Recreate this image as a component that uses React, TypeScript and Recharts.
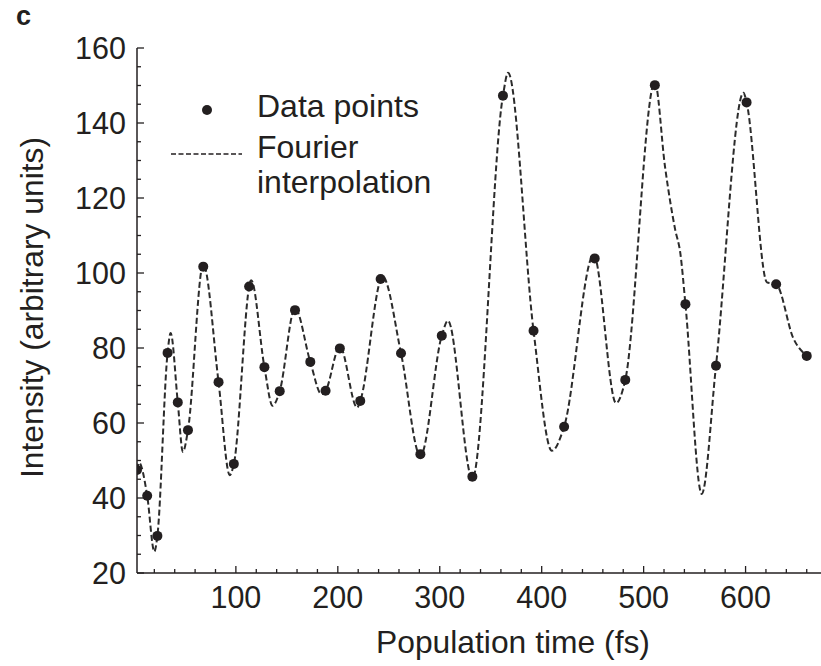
import { ComposedChart, Legend, Line, Scatter, XAxis, YAxis, Label } from 'recharts'

// measured data points (time in fs, intensity in arb. units)
const pointTimes = [3, 13, 23, 33, 43, 53, 68, 83, 98, 113, 128, 143, 158, 173, 188, 202, 222, 242, 262, 281, 302, 332, 362, 392, 422, 452, 482, 511, 541, 571, 601, 630, 660]
const pointIntensities = [47.5, 40.6, 29.9, 78.7, 65.5, 58.1, 101.7, 70.9, 49.1, 96.4, 74.9, 68.5, 90.1, 76.3, 68.6, 79.9, 65.9, 98.4, 78.6, 51.7, 83.3, 45.7, 147.3, 84.6, 59.0, 103.9, 71.5, 150.1, 91.7, 75.3, 145.5, 97.0, 77.9]

// dashed Fourier curve (points, peaks and troughs)
const curveTimes = [3, 5, 13, 20, 23, 33, 36, 43, 48, 53, 68, 83, 94, 98, 115, 128, 136, 143, 158, 173, 184, 188, 202, 219, 222, 244, 262, 281, 302, 308, 332, 362, 367, 392, 410, 422, 451, 473, 482, 511, 521, 531, 536, 541, 557, 571, 598, 601, 621, 630, 647, 660]
const curveIntensities = [47.5, 49.4, 40.6, 25.7, 29.9, 78.7, 84.0, 65.5, 52.3, 58.1, 102.4, 70.9, 46.1, 49.1, 98.1, 74.9, 64.6, 68.5, 90.6, 76.3, 67.7, 68.6, 80.4, 64.1, 65.9, 99.0, 78.6, 51.2, 83.3, 87.3, 45.2, 147.3, 153.4, 84.6, 52.6, 59.0, 104.8, 65.3, 71.5, 150.9, 128.3, 111.5, 105.3, 91.7, 41.1, 75.3, 148.1, 145.5, 97.5, 97.0, 82.5, 77.9]

const xTicks = [20, 40, 60, 80, 100, 120, 140, 160, 180, 200, 220, 240, 260, 280, 300, 320, 340, 360, 380, 400, 420, 440, 460, 480, 500, 520, 540, 560, 580, 600, 620, 640, 660]
const xLabels = [100, 200, 300, 400, 500, 600]
const yTicks = [20, 25, 30, 35, 40, 45, 50, 55, 60, 65, 70, 75, 80, 85, 90, 95, 100, 105, 110, 115, 120, 125, 130, 135, 140, 145, 150, 155, 160]
const yLabels = [20, 40, 60, 80, 100, 120, 140, 160]

const points = pointTimes.map((t, i) => ({ x: t, y: pointIntensities[i] }))
const curve = curveTimes.map((t, i) => ({ x: t, y: curveIntensities[i] }))

const INK = '#231f20'
const FONT = '"Liberation Sans", Arial, sans-serif'

const XTick = (props) => {
    const { x, y, payload } = props
    const major = xLabels.includes(payload.value)
    return (
        <g>
            <line x1={x} x2={x} y1={y} y2={y - (major ? 7 : 4)} stroke={INK} strokeWidth={1.3} />
            {major && (
                <text x={x} y={y + 35} textAnchor="middle" fontSize={30.5} fill={INK} fontFamily={FONT}>
                    {payload.value}
                </text>
            )}
        </g>
    )
}

const YTick = (props) => {
    const { x, y, payload } = props
    const major = yLabels.includes(payload.value)
    return (
        <g>
            <line x1={x} x2={x + (major ? 7 : 4)} y1={y} y2={y} stroke={INK} strokeWidth={1.3} />
            {major && (
                <text x={x - 11} y={y + 11} textAnchor="end" fontSize={30.5} fill={INK} fontFamily={FONT}>
                    {payload.value}
                </text>
            )}
        </g>
    )
}

const LegendBox = () => (
    <svg width={300} height={130} style={{ overflow: 'visible' }}>
        <circle cx={47} cy={30} r={5} fill={INK} />
        <text x={97} y={37} fontSize={32} fill={INK} fontFamily={FONT}>Data points</text>
        <line x1={11} x2={82} y1={74} y2={74} stroke={INK} strokeWidth={1.6} strokeDasharray="5 2.5" />
        <text x={97} y={78} fontSize={32} fill={INK} fontFamily={FONT}>Fourier</text>
        <text x={97} y={113} fontSize={32} fill={INK} fontFamily={FONT}>interpolation</text>
    </svg>
)

export default function App() {
    return (
        <div style={{ position: 'absolute', left: 0, top: 0, width: 821, height: 666, background: '#fff' }}>
            <svg width={60} height={40} style={{ position: 'absolute', left: 0, top: 0 }}>
                <text x={16} y={25} fontSize={27} fontWeight="bold" fill={INK} fontFamily={FONT}>c</text>
            </svg>
            <ComposedChart
                width={821}
                height={666}
                margin={{
                    top: 48,
                    right: 0,
                    left: 0,
                    bottom: 0
                }}>
                <XAxis type="number" dataKey="x" domain={[3, 674]} ticks={xTicks} interval={0} allowDataOverflow
                       height={93} tickSize={0} tickMargin={0} tickLine={false} tick={XTick}
                       axisLine={{ stroke: INK, strokeWidth: 1.5 }}>
                    <Label content={({ viewBox }) => (
                        <text x={viewBox.x + viewBox.width / 2 + 34} y={653} textAnchor="middle" fontSize={31.8}
                              fill={INK} fontFamily={FONT}>Population time (fs)</text>
                    )} />
                </XAxis>
                <YAxis type="number" dataKey="y" domain={[20, 160]} ticks={yTicks} interval={0} allowDataOverflow
                       width={137} tickSize={0} tickMargin={0} tickLine={false} tick={YTick}
                       axisLine={{ stroke: INK, strokeWidth: 1.5 }}>
                    <Label content={({ viewBox }) => (
                        <text x={43} y={viewBox.y + viewBox.height / 2 - 3} textAnchor="middle" fontSize={31.8}
                              fill={INK} fontFamily={FONT} transform={`rotate(-90, 43, ${viewBox.y + viewBox.height / 2 - 3})`}>
                            Intensity (arbitrary units)
                        </text>
                    )} />
                </YAxis>
                <Legend layout="horizontal" verticalAlign="middle" align="center" content={LegendBox}
                        wrapperStyle={{ left: 160, top: 80, width: 300, height: 130 }} />
                <Line data={curve} dataKey="y" type="monotone" stroke="#2b2b2b" strokeWidth={2} strokeDasharray="6 3"
                      dot={false} activeDot={false} isAnimationActive={false} legendType="none" />
                <Scatter data={points} dataKey="y" isAnimationActive={false} legendType="none"
                         shape={(p) => <circle cx={p.cx} cy={p.cy} r={5} fill={INK} />} />
            </ComposedChart>
        </div>
    )
}
